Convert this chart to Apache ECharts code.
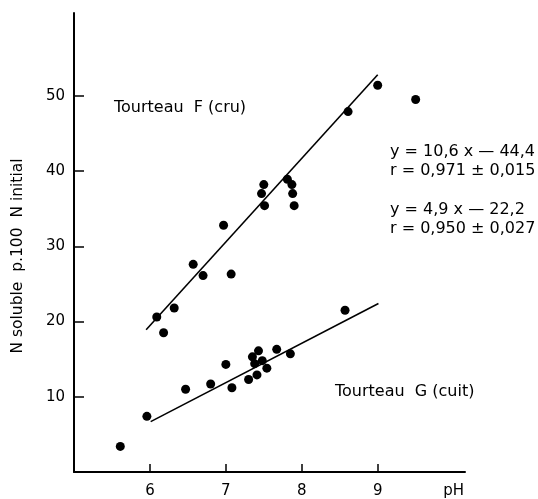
<!DOCTYPE html>
<html>
<head>
<meta charset="utf-8">
<script src="https://cdn.jsdelivr.net/npm/echarts@6/dist/echarts.min.js"></script>
<style>
html,body{margin:0;padding:0;background:#fff;}
#chart{width:538px;height:499px;}
</style>
</head>
<body>
<div id="chart"></div>
<script>
// Tourteau F (cru): [pH, N soluble p.100 N initial]
var seriesF = [
  [6.09, 20.6], [6.18, 18.5], [6.32, 21.8], [6.57, 27.6], [6.70, 26.1],
  [6.97, 32.8], [7.07, 26.3], [7.47, 37.0], [7.50, 38.2], [7.51, 35.4],
  [7.81, 38.9], [7.87, 38.2], [7.88, 37.0], [7.90, 35.4], [8.61, 47.9],
  [9.00, 51.4], [9.50, 49.5]
];
// Tourteau G (cuit)
var seriesG = [
  [5.61, 3.4], [5.96, 7.4], [6.47, 11.0], [6.80, 11.7], [7.00, 14.3],
  [7.08, 11.2], [7.30, 12.3], [7.35, 15.3], [7.43, 16.1], [7.41, 12.9],
  [7.38, 14.4], [7.48, 14.8], [7.54, 13.8], [7.67, 16.3], [7.85, 15.7],
  [8.57, 21.5]
];
// regression lines as drawn
var lineF = [[5.95, 18.9], [9.0, 52.8]];
var lineG = [[6.01, 6.7], [9.01, 22.4]];
// axis ticks
var xTicks = [6, 7, 8, 9];
var xLabelValues = [6, 7, 8, 9, 10];
var xLabelText = {6: '6', 7: '7', 8: '8', 9: '9', 10: 'pH'};
var yTicks = [10, 20, 30, 40, 50];
var yAxisName = 'N soluble  p.100  N initial';
var labelF = 'Tourteau  F (cru)';
var labelG = 'Tourteau  G (cuit)';
var eqLines = ['y = 10,6 x \u2014 44,4', 'r = 0,971 \u00b1 0,015', 'y = 4,9 x \u2014 22,2', 'r = 0,950 \u00b1 0,027'];

var font = 'DejaVu Sans';
function txt(x, y, s, size) {
  return {type: 'text', x: x, y: y, style: {text: s, fill: '#000', font: size + 'px ' + font, verticalAlign: 'middle', align: 'left'}};
}
var chart = echarts.init(document.getElementById('chart'), null, {renderer: 'canvas'});
chart.setOption({
  animation: false,
  backgroundColor: '#fff',
  grid: {left: 74, right: 73, top: 13, bottom: 27},
  xAxis: {
    type: 'value', min: 5, max: 10.15,
    splitLine: {show: false},
    axisLine: {lineStyle: {color: '#000', width: 2}},
    axisTick: {inside: true, length: 8, customValues: xTicks, lineStyle: {color: '#000', width: 1.5}},
    axisLabel: {customValues: xLabelValues, formatter: function (v) { return xLabelText[v] || ''; },
      color: '#000', fontFamily: font, fontSize: 15, margin: 12}
  },
  yAxis: {
    type: 'value', min: 0, max: 61,
    splitLine: {show: false},
    axisLine: {lineStyle: {color: '#000', width: 2}},
    axisTick: {inside: true, length: 10, customValues: yTicks, lineStyle: {color: '#000', width: 1.5}},
    axisLabel: {customValues: yTicks, color: '#000', fontFamily: font, fontSize: 15, margin: 9}
  },
  series: [
    {type: 'scatter', data: seriesF, symbolSize: 9, itemStyle: {color: '#000', opacity: 1}},
    {type: 'scatter', data: seriesG, symbolSize: 9, itemStyle: {color: '#000', opacity: 1}},
    {type: 'line', data: lineF, symbol: 'none', lineStyle: {color: '#000', width: 1.6}},
    {type: 'line', data: lineG, symbol: 'none', lineStyle: {color: '#000', width: 1.6}}
  ],
  graphic: [
    {type: 'text', x: 18, y: 256, rotation: Math.PI / 2,
      style: {text: yAxisName, fill: '#000', font: '15.5px ' + font, align: 'center', verticalAlign: 'middle'}},
    txt(114, 108, labelF, 16),
    txt(335, 392, labelG, 16),
    txt(390, 152, eqLines[0], 16),
    txt(390, 171, eqLines[1], 16),
    txt(390, 210, eqLines[2], 16),
    txt(390, 229, eqLines[3], 16)
  ]
});
</script>
</body>
</html>
